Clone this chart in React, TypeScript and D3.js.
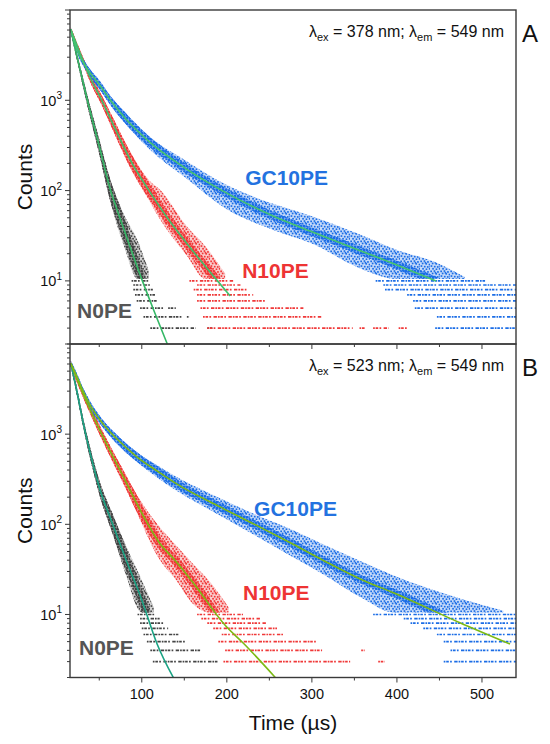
import * as d3 from 'd3';

type Pt = [number, number]; // [time µs, counts]
type Band = [number, number, number]; // [time µs, low counts, high counts]
type Row = [number, number, number]; // [counts, from µs, to µs]

const timeTicks = [100, 200, 300, 400, 500];
const timeMinorTicks = [50, 150, 250, 350, 450];
const decadeExp: Record<number, string> = { 10: '1', 100: '2', 1000: '3' };

const seriesNames = ['N0PE', 'N10PE', 'GC10PE'];
const seriesColors = ['#444444', '#f03838', '#1b6de6'];
const labelColors = ['#555555', '#ee3434', '#2372e0'];

// panel A, λex = 378 nm
const fitA_N0PE: Pt[] = [[16.5, 6100], [26, 2500], [36, 1000], [50, 310], [62.7, 105], [70, 65], [80, 35], [100.7, 10], [115, 4.5], [130, 2]];
const fitA_N10PE: Pt[] = [[16.5, 6100], [30, 2900], [39, 1810], [53, 1000], [62.7, 640], [90, 190], [108.5, 100], [130, 50], [153, 26], [189, 10], [204, 6.8]];
const fitA_GC10PE: Pt[] = [[16.5, 6100], [20, 4700], [25, 3400], [35, 2300], [51, 1450], [65, 950], [80, 640], [110, 340], [150, 180], [194.5, 100], [257, 51], [300, 35], [354.5, 22], [400, 15], [446, 10]];

const bandA_N0PE: Band[] = [[16.5, 5600, 6500], [26, 2250, 2750], [36, 870, 1140], [50, 255, 370], [62.7, 78, 135], [80, 23, 52], [95, 10.5, 28], [108, 10.5, 13]];
const bandA_N10PE: Band[] = [[16.5, 5600, 6500], [30, 2650, 3150], [39, 1620, 2000], [53, 880, 1130], [62.7, 550, 740], [90, 155, 235], [108.5, 78, 130], [121.5, 48, 102], [153, 19, 40], [175, 10.5, 24], [198, 10.5, 12]];
const bandA_GC10PE: Band[] = [[16.5, 5600, 6500], [25, 3150, 3700], [35, 2100, 2500], [51, 1300, 1620], [65, 840, 1060], [80, 560, 740], [110, 282, 390], [150, 142, 220], [200, 62, 115], [257, 36, 70], [300, 26, 52], [355, 14, 33], [400, 10.5, 22], [446, 10.5, 16], [480, 10.5, 11]];

const rowsA_N0PE: Row[] = [[3, 110, 163], [3, 177, 184], [4, 102, 147], [4, 153, 156], [5, 98, 125], [5, 131, 140], [6, 94, 118], [7, 92, 116], [8, 90, 113], [9, 90, 110], [10, 88, 108]];
const rowsA_N10PE: Row[] = [[3, 177, 348], [3, 356, 362], [3, 372, 390], [3, 402, 413], [4, 172, 312], [5, 169, 290], [6, 165, 247], [7, 165, 231], [8, 161, 224], [9, 165, 216], [10, 156, 208]];
const rowsA_GC10PE: Row[] = [[3, 445, 541], [4, 447, 540], [5, 421, 540], [6, 419, 540], [7, 412, 540], [8, 386, 540], [9, 384, 540], [10, 375, 505]];

// panel B, λex = 523 nm
const fitB_N0PE: Pt[] = [[16.5, 6100], [24, 2900], [31, 1350], [40, 580], [51, 240], [65, 105], [80, 44], [100, 14.5], [118, 4.7], [137, 2]];
const fitB_N10PE: Pt[] = [[16.5, 6100], [31, 2800], [51, 1085], [82.5, 281], [92, 186], [121.5, 61], [139, 40], [160.6, 22.4], [199.6, 7.3], [219.5, 4.8], [257, 2]];
const fitB_GC10PE: Pt[] = [[16.5, 6100], [24, 4300], [31, 3000], [40, 2050], [54.5, 1300], [70, 900], [94.5, 558], [120, 380], [141, 281], [192, 156], [239, 93], [278, 60], [313, 40], [360, 24], [396, 17.4], [474, 8.1], [533, 4.7]];

const bandB_N0PE: Band[] = [[16.5, 5600, 6500], [24, 2600, 3200], [31, 1200, 1520], [40, 500, 670], [51, 200, 290], [65, 82, 135], [80, 30, 62], [100, 10.5, 24], [114, 10.5, 12]];
const bandB_N10PE: Band[] = [[16.5, 5600, 6500], [31, 2550, 3050], [51, 960, 1220], [82.5, 235, 335], [92, 150, 230], [121.5, 40, 92], [139, 25, 60], [160.6, 13, 36], [180, 10.5, 23], [202, 10.5, 12]];
const bandB_GC10PE: Band[] = [[16.5, 5600, 6500], [24, 4000, 4650], [31, 2780, 3250], [40, 1880, 2250], [54.5, 1180, 1430], [70, 800, 1000], [94.5, 490, 630], [120, 320, 440], [141, 235, 335], [192, 125, 195], [239, 70, 122], [278, 43, 86], [313, 28, 60], [360, 15, 38], [396, 10.5, 27], [474, 10.5, 15], [525, 10.5, 11]];

const rowsB_N0PE: Row[] = [[3, 113, 189], [4, 110, 169], [5, 106, 153], [6, 102, 143], [7, 100, 131], [8, 98, 127], [9, 98, 121], [10, 95, 115]];
const rowsB_N10PE: Row[] = [[3, 196, 345], [3, 378, 386], [4, 198, 312], [4, 358, 362], [5, 190, 307], [6, 194, 267], [7, 184, 259], [8, 177, 247], [9, 170, 240], [10, 165, 219]];
const rowsB_GC10PE: Row[] = [[3, 455, 540], [4, 463, 540], [5, 455, 540], [6, 447, 540], [7, 431, 540], [8, 416, 540], [9, 408, 540], [10, 372, 540]];

// label anchors in data space [time, counts]
const labelsA: Pt[] = [[23.9, 3.9], [218, 10.8], [221.6, 115]];
const labelsB: Pt[] = [[26.2, 3.56], [219, 14.3], [232, 124]];

const FONT = '"Liberation Sans", Arial, Helvetica, sans-serif';
const AXIS = '#3a3a3a';
const W = 550;
const H = 744;
const X0 = 70;
const X1 = 516;

// speckle tile for the sparse outer part of each cloud (pure styling)
const SPECKLE: [number, number][] = [
  [0.3, 0.5], [3.6, 0.2], [7.1, 1.1], [1.8, 2.6], [5.4, 3.0], [8.6, 3.7],
  [0.6, 5.2], [3.9, 5.8], [6.9, 6.1], [2.2, 7.9], [5.6, 8.4], [8.8, 8.0],
  [9.4, 5.9], [4.6, 1.9],
];

const x = d3.scaleLinear().domain([15.6, 540]).range([X0, X1]);

type PanelProps = {
  id: string;
  top: number;
  bottom: number;
  fits: Pt[][];
  bands: Band[][];
  rows: Row[][];
  fitColors: string[];
  labels: Pt[];
  exc: string;
  letter: string;
  showTimeLabels: boolean;
};

function Panel({ id, top, bottom, fits, bands, rows, fitColors, labels, exc, letter, showTimeLabels }: PanelProps) {
  const y = d3.scaleLog().domain([2, 10000]).range([bottom, top]);
  const line = d3
    .line<Pt>()
    .x((d) => x(d[0]))
    .y((d) => y(d[1]))
    .curve(d3.curveMonotoneX);
  const area = d3
    .area<Band>()
    .x((d) => x(d[0]))
    .y0((d) => y(d[1]))
    .y1((d) => y(d[2]))
    .curve(d3.curveMonotoneX);

  const yTicks = y.ticks().filter((v) => v >= 2 && v <= 10000);
  const isMajor = (v: number) => Math.abs(Math.log10(v) - Math.round(Math.log10(v))) < 1e-9;
  const mid = (top + bottom) / 2;

  return (
    <g>
      <defs>
        <clipPath id={`clip-${id}`}>
          <rect x={X0} y={top} width={X1 - X0} height={bottom - top} />
        </clipPath>
        {seriesColors.map((c, i) => (
          <g key={i}>
            <clipPath id={`band-${id}-${i}`}>
              <path d={area(bands[i]) ?? ''} />
            </clipPath>
            <pattern id={`sparse-${id}-${i}`} width={10} height={10} patternUnits="userSpaceOnUse">
              {SPECKLE.map(([px, py], k) => (
                <rect key={k} x={px} y={py} width={1.7} height={1.7} fill={c} />
              ))}
            </pattern>
            <pattern id={`dense-${id}-${i}`} width={3} height={3} patternUnits="userSpaceOnUse">
              <rect x={0} y={0} width={2.2} height={2.2} fill={c} />
            </pattern>
          </g>
        ))}
      </defs>

      <g clipPath={`url(#clip-${id})`}>
        {seriesNames.map((name, i) => (
          <g key={name}>
            <path d={area(bands[i]) ?? ''} fill={seriesColors[i]} opacity={0.25} />
            <path d={area(bands[i]) ?? ''} fill={`url(#sparse-${id}-${i})`} />
            <g clipPath={`url(#band-${id}-${i})`}>
              <path d={line(fits[i]) ?? ''} fill="none" stroke={seriesColors[i]} strokeWidth={8} opacity={0.4} />
              <path d={line(fits[i]) ?? ''} fill="none" stroke={`url(#dense-${id}-${i})`} strokeWidth={8} />
            </g>
            {rows[i].map((r, k) => (
              <line
                key={k}
                x1={x(r[1])}
                x2={x(r[2])}
                y1={y(r[0])}
                y2={y(r[0])}
                stroke={seriesColors[i]}
                strokeWidth={1.7}
                strokeDasharray="1.7 0.8 2.6 1.3 1.7 2.4 3.4 1"
              />
            ))}
          </g>
        ))}
        {fits.map((f, i) => (
          <path key={i} d={line(f) ?? ''} fill="none" stroke={fitColors[i]} strokeWidth={1.6} />
        ))}
      </g>

      {seriesNames.map((name, i) => (
        <text
          key={name}
          x={x(labels[i][0])}
          y={y(labels[i][1])}
          fontFamily={FONT}
          fontWeight="bold"
          fontSize={21}
          fill={labelColors[i]}
        >
          {name}
        </text>
      ))}

      <rect x={X0} y={top} width={X1 - X0} height={bottom - top} fill="none" stroke={AXIS} strokeWidth={1.4} />

      {yTicks.map((v) => (
        <line
          key={v}
          x1={X0}
          x2={X0 - (isMajor(v) ? 5 : 3)}
          y1={y(v)}
          y2={y(v)}
          stroke={AXIS}
          strokeWidth={1}
        />
      ))}
      {[10, 100, 1000].map((v) => (
        <text key={v} x={62} y={y(v) + 5.5} textAnchor="end" fontFamily={FONT} fontSize={14.5} fill="#111">
          10
          <tspan fontSize={10} dy={-6.5}>
            {decadeExp[v]}
          </tspan>
        </text>
      ))}

      {timeTicks.map((t) => (
        <line key={t} x1={x(t)} x2={x(t)} y1={bottom} y2={bottom + 5} stroke={AXIS} strokeWidth={1} />
      ))}
      {timeMinorTicks.map((t) => (
        <line key={t} x1={x(t)} x2={x(t)} y1={bottom} y2={bottom + 3} stroke={AXIS} strokeWidth={1} />
      ))}
      {showTimeLabels &&
        timeTicks.map((t) => (
          <text key={t} x={x(t)} y={bottom + 21.5} textAnchor="middle" fontFamily={FONT} fontSize={14.5} fill="#111">
            {t}
          </text>
        ))}

      <text
        transform={`translate(32, ${mid}) rotate(-90)`}
        textAnchor="middle"
        fontFamily={FONT}
        fontSize={21}
        fill="#111"
      >
        Counts
      </text>

      <text x={504} y={top + 26.5} textAnchor="end" fontFamily={FONT} fontSize={16} fill="#111">
        λ
        <tspan fontSize={11} dy={4}>
          ex
        </tspan>
        <tspan dy={-4}>{` = ${exc} nm; λ`}</tspan>
        <tspan fontSize={11} dy={4}>
          em
        </tspan>
        <tspan dy={-4}>{' = 549 nm'}</tspan>
      </text>
      <text x={522} y={top + 32} fontFamily={FONT} fontSize={24} fill="#111">
        {letter}
      </text>
    </g>
  );
}

export default function App() {
  return (
    <div style={{ position: 'absolute', left: 0, top: 0, width: W, height: H, background: '#fff' }}>
      <svg width={W} height={H} viewBox={`0 0 ${W} ${H}`} style={{ display: 'block' }}>
        <rect width={W} height={H} fill="#fff" />
        <Panel
          id="a"
          top={10}
          bottom={344}
          fits={[fitA_N0PE, fitA_N10PE, fitA_GC10PE]}
          bands={[bandA_N0PE, bandA_N10PE, bandA_GC10PE]}
          rows={[rowsA_N0PE, rowsA_N10PE, rowsA_GC10PE]}
          fitColors={['#35b866', '#3fc06a', '#46c46e']}
          labels={labelsA}
          exc="378"
          letter="A"
          showTimeLabels={false}
        />
        <Panel
          id="b"
          top={344}
          bottom={677.5}
          fits={[fitB_N0PE, fitB_N10PE, fitB_GC10PE]}
          bands={[bandB_N0PE, bandB_N10PE, bandB_GC10PE]}
          rows={[rowsB_N0PE, rowsB_N10PE, rowsB_GC10PE]}
          fitColors={['#1aa384', '#7cba14', '#7cba14']}
          labels={labelsB}
          exc="523"
          letter="B"
          showTimeLabels={true}
        />
        <text x={293} y={730} textAnchor="middle" fontFamily={FONT} fontSize={21} fill="#111">
          Time (µs)
        </text>
      </svg>
    </div>
  );
}
